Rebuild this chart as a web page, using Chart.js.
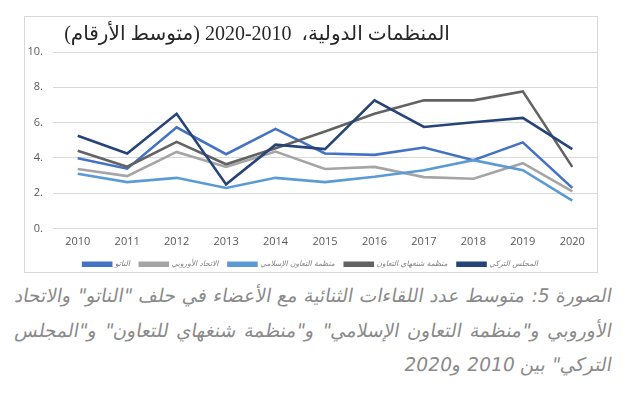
<!DOCTYPE html>
<html>
<head>
<meta charset="utf-8">
<script src="https://cdn.jsdelivr.net/npm/chart.js@4.4.1/dist/chart.umd.min.js"></script>
<style>
  html, body { margin: 0; padding: 0; background: #ffffff; width: 640px; height: 405px; overflow: hidden; }
  #box { position: absolute; left: 24px; top: 16px; width: 574px; height: 257px; border: 1px solid #d9d9d9; box-sizing: border-box; }
  #c { position: absolute; left: -1px; top: -1px; }
  #caption { position: absolute; left: 15px; top: 279px; width: 597px; direction: rtl; color: #8a8a8a;
    font-family: "DejaVu Sans", "Liberation Serif", serif; font-size: 21px; line-height: 34.5px; }
  #caption div { transform: skewX(-10deg); }
  .j { text-align: justify; text-align-last: justify; white-space: nowrap; }
  .r { text-align: right; white-space: nowrap; }
</style>
</head>
<body>
<div id="box"><canvas id="c" width="574" height="257"></canvas></div>
<div id="caption">
  <div class="j" id="l1">الصورة 5: متوسط عدد اللقاءات الثنائية مع الأعضاء في حلف "الناتو" والاتحاد</div>
  <div class="j" id="l2">الأوروبي و"منظمة التعاون الإسلامي" و"منظمة شنغهاي للتعاون" و"المجلس</div>
  <div class="r" id="l3">التركي" بين 2010 و2020</div>
</div>
<script>
const titleText = 'المنظمات الدولية،  2010-2020 (متوسط الأرقام)';
const years = ['2010','2011','2012','2013','2014','2015','2016','2017','2018','2019','2020'];
const seriesNames = ['الناتو', 'الاتحاد الأوروبي', 'منظمة التعاون الإسلامي', 'منظمة شنغهاي التعاون', 'المجلس التركي'];
const nato   = [3.98, 3.39, 5.73, 4.21, 5.64, 4.25, 4.17, 4.59, 3.87, 4.88, 2.30];
const eu     = [3.37, 2.97, 4.34, 3.49, 4.36, 3.37, 3.49, 2.91, 2.82, 3.70, 2.11];
const oic    = [3.10, 2.63, 2.87, 2.30, 2.87, 2.63, 2.93, 3.30, 3.87, 3.30, 1.58];
const sco    = [4.40, 3.50, 4.91, 3.64, 4.55, 5.50, 6.50, 7.26, 7.26, 7.77, 3.49];
const turkic = [5.26, 4.25, 6.50, 2.50, 4.75, 4.50, 7.26, 5.75, 6.02, 6.27, 4.50];
const yTicks = [0, 2, 4, 6, 8, 10];

const colors = ['#4472C4', '#A5A5A5', '#5B9BD5', '#636363', '#264478'];
const values = [nato, eu, oic, sco, turkic];

// fit caption font so the justified lines fit the caption width
(function fitCaption() {
  const cap = document.getElementById('caption');
  const probe = document.createElement('span');
  probe.style.whiteSpace = 'nowrap';
  probe.style.position = 'absolute';
  probe.style.visibility = 'hidden';
  probe.style.font = getComputedStyle(cap).font;
  document.body.appendChild(probe);
  let maxW = 0;
  ['l1', 'l2'].forEach(id => {
    probe.textContent = document.getElementById(id).textContent;
    maxW = Math.max(maxW, probe.getBoundingClientRect().width);
  });
  document.body.removeChild(probe);
  const target = 592;
  if (maxW > target) {
    cap.style.fontSize = (21 * target / maxW).toFixed(2) + 'px';
  }
})();

const titlePlugin = {
  id: 'customTitle',
  afterDraw(chart) {
    const ctx = chart.ctx;
    ctx.save();
    ctx.font = '20px "Liberation Serif", "DejaVu Sans", serif';
    ctx.fillStyle = '#262626';
    ctx.direction = 'rtl';
    ctx.textAlign = 'center';
    ctx.textBaseline = 'middle';
    ctx.fillText(titleText, 233, 19);
    ctx.restore();
  }
};

new Chart(document.getElementById('c'), {
  type: 'line',
  data: {
    labels: years,
    datasets: values.map((v, i) => ({
      label: seriesNames[i],
      data: v,
      borderColor: colors[i],
      backgroundColor: colors[i],
      borderWidth: 2.6,
      pointRadius: 0,
      tension: 0,
      order: 4 - i
    }))
  },
  options: {
    responsive: false,
    animation: false,
    layout: { padding: { top: 36, right: 1, left: 0, bottom: -5 } },
    plugins: {
      title: { display: false },
      tooltip: { enabled: false },
      legend: {
        position: 'bottom',
        labels: {
          sort: (a, b) => a.datasetIndex - b.datasetIndex,
          boxWidth: 28,
          boxHeight: 3,
          padding: 10,
          color: '#7f7f7f',
          font: { family: '"DejaVu Sans", sans-serif', size: 7.5, style: 'italic' }
        }
      }
    },
    scales: {
      x: {
        offset: true,
        grid: { display: false, drawTicks: false },
        border: { display: false },
        ticks: { color: '#595959', padding: 7, font: { family: '"Open Sans", "Liberation Sans", sans-serif', size: 11 }, maxRotation: 0 },
        afterFit(scale) { scale.height = 22; }
      },
      y: {
        min: 0, max: 10,
        afterBuildTicks(scale) { scale.ticks = yTicks.map(v => ({ value: v })); },
        grid: { color: '#d9d9d9', lineWidth: 1, drawTicks: false },
        border: { display: false },
        ticks: { color: '#595959', padding: 10, font: { family: '"Open Sans", "Liberation Sans", sans-serif', size: 11 },
          callback: (v) => v + '.' },
        afterFit(scale) { scale.width = 29; }
      }
    }
  },
  plugins: [titlePlugin]
});
</script>
</body>
</html>
